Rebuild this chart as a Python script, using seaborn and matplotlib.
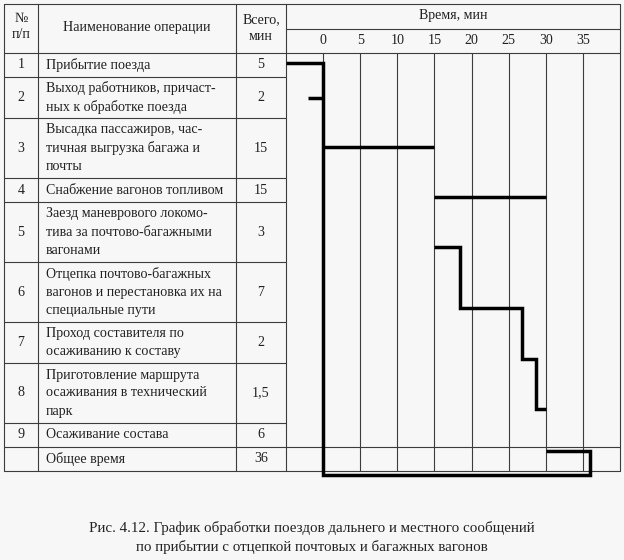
import numpy as np
import pandas as pd
import matplotlib
matplotlib.use("Agg")
import matplotlib.pyplot as plt
import seaborn as sns

# ---------------- data ----------------
op_numbers = ["1", "2", "3", "4", "5", "6", "7", "8", "9", ""]
op_names = [
    "Прибытие поезда",
    "Выход работников, причаст-\nных к обработке поезда",
    "Высадка пассажиров, час-\nтичная выгрузка багажа и\nпочты",
    "Снабжение вагонов топливом",
    "Заезд маневрового локомо-\nтива за почтово-багажными\nвагонами",
    "Отцепка почтово-багажных\nвагонов и перестановка их на\nспециальные пути",
    "Проход составителя по\nосаживанию к составу",
    "Приготовление маршрута\nосаживания в технический\nпарк",
    "Осаживание состава",
    "Общее время",
]
op_totals = ["5", "2", "15", "15", "3", "7", "2", "1,5", "6", "36"]
op_start = [-5, -2, 0, 15, 15, 18.5, 26.8, 28.7, 30]
op_end = [0, 0, 15, 30, 18.5, 26.8, 28.7, 30, 36]
total_start, total_end = 0, 36
time_ticks = [0, 5, 10, 15, 20, 25, 30, 35]

# ---------------- style / layout ----------------
sns.set_theme(style="white")
plt.rcParams["font.family"] = ["Liberation Serif", "DejaVu Serif"]
BG = "#f7f7f7"
TXT = "#222222"
GRID = "#3c3c3c"
FS = 10.1

W, H = 624, 560
fig = plt.figure(figsize=(W / 100, H / 100), dpi=100, facecolor=BG)
lay = fig.add_axes([0, 0, 1, 1])
lay.set_xlim(0, W)
lay.set_ylim(H, 0)
lay.axis("off")
lay.set_facecolor("none")

# column borders (px)
c0, c1, c2, c3, c4 = 4, 38, 236, 286, 620
top, head_bot = 4, 53
nlines = [n.count("\n") + 1 for n in op_names]
row_h = {1: 24, 2: 41, 3: 60}
bounds = [head_bot]
for n in nlines:
    bounds.append(bounds[-1] + row_h[n])
tbl_bot = bounds[-1]

lw_thin = 0.8
for x in [c0, c1, c2, c3, c4]:
    lay.plot([x, x], [top, tbl_bot], color=GRID, lw=lw_thin)
lay.plot([c0, c4], [top, top], color=GRID, lw=lw_thin)
lay.plot([c0, c4], [head_bot, head_bot], color=GRID, lw=lw_thin)
lay.plot([c3, c4], [29, 29], color=GRID, lw=lw_thin)
for i, b in enumerate(bounds[1:]):
    if i >= len(bounds) - 3:
        lay.plot([c0, c4], [b, b], color=GRID, lw=lw_thin)
    else:
        lay.plot([c0, c3], [b, b], color=GRID, lw=lw_thin)

kw = dict(color=TXT, fontsize=FS)
lay.text((c0 + c1) / 2, 18, "№", ha="center", va="center", **kw)
lay.text((c0 + c1) / 2, 35, "п/п", ha="center", va="center", **kw)
lay.text((c1 + c2) / 2, 28, "Наименование операции", ha="center", va="center", **kw)
lay.text((c2 + c3) / 2, 20, "Всего,", ha="center", va="center", **kw)
lay.text((c2 + c3) / 2, 36, "мин", ha="center", va="center", **kw)
lay.text((c3 + c4) / 2, 16, "Время, мин", ha="center", va="center", **kw)

for i in range(len(op_names)):
    yc = (bounds[i] + bounds[i + 1]) / 2
    lay.text((c0 + c1) / 2, yc, op_numbers[i], ha="center", va="center", **kw)
    lay.text(c1 + 8, yc, op_names[i], ha="left", va="center", linespacing=1.5, **kw)
    lay.text((c2 + c3) / 2, yc, op_totals[i], ha="center", va="center", **kw)

lay.text(W / 2, 528, "Рис. 4.12. График обработки поездов дальнего и местного сообщений",
         ha="center", va="center", color=TXT, fontsize=10.8)
lay.text(W / 2, 547, "по прибытии с отцепкой почтовых и багажных вагонов",
         ha="center", va="center", color=TXT, fontsize=10.8)

# ---------------- chart axes (x in minutes) ----------------
ax = fig.add_axes([c3 / W, 0, (c4 - c3) / W, 1])
ax.set_xlim(-5, 40)
ax.set_ylim(H, 0)
ax.axis("off")
ax.set_facecolor("none")

ax.vlines(time_ticks, head_bot, tbl_bot, color=GRID, lw=lw_thin)
for t in time_ticks:
    ax.text(t, 40, str(t), ha="center", va="center", **kw)

frac = [0.40, 0.50, 0.48, 0.78, 0.755, 0.77, 0.91, 0.77, 1.16]
ys = [bounds[i] + frac[i] * (bounds[i + 1] - bounds[i]) for i in range(9)]
ybot = tbl_bot + 4

pts = []
def seg(unit, xs, yv):
    for x, y in zip(xs, yv):
        pts.append(dict(unit=unit, t=x, y=y))

seg("a", [op_start[0], op_end[0], total_start, total_end, total_end, op_start[8]],
    [ys[0], ys[0], ybot, ybot, ys[8], ys[8]])
seg("b", [op_start[1], op_end[1]], [ys[1], ys[1]])
seg("c", [op_start[2], op_end[2]], [ys[2], ys[2]])
seg("d", [op_start[3], op_end[3]], [ys[3], ys[3]])
xs, yv = [], []
for k in range(4, 8):
    xs += [op_start[k], op_end[k]]
    yv += [ys[k], ys[k]]
seg("e", xs, yv)
df = pd.DataFrame(pts)

sns.lineplot(data=df, x="t", y="y", units="unit", estimator=None, sort=False,
             color="black", lw=2.5, ax=ax, legend=False)
for ln in ax.lines:
    ln.set_solid_joinstyle("miter")
    ln.set_solid_capstyle("butt")
    ln.set_clip_on(False)
ax.set_ylim(H, 0)
ax.set_xlim(-5, 40)
ax.axis("off")

fig.savefig("out.png", dpi=100, facecolor=BG)
